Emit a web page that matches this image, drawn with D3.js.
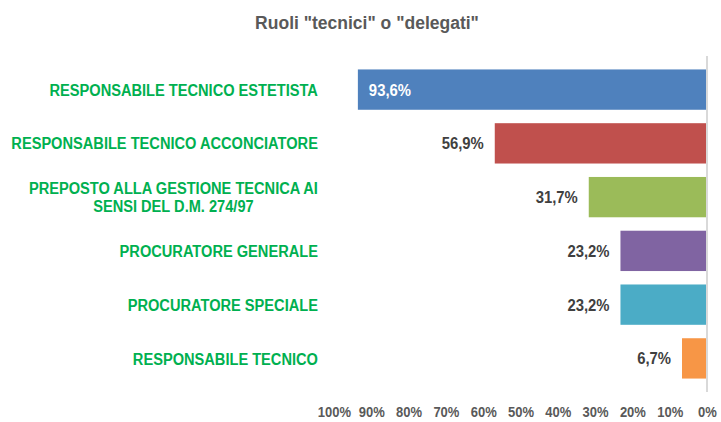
<!DOCTYPE html>
<html>
<head>
<meta charset="utf-8">
<script src="https://cdn.jsdelivr.net/npm/d3@7"></script>
<style>
  body { margin: 0; background: #fff; }
  text { font-family: "Liberation Sans", Arial, sans-serif; font-weight: bold; }
</style>
</head>
<body>
<div id="chart"></div>
<script>
// data
var categories = [
    "RESPONSABILE TECNICO ESTETISTA",
    "RESPONSABILE TECNICO ACCONCIATORE",
    "PREPOSTO ALLA GESTIONE TECNICA AI|SENSI DEL D.M. 274/97",
    "PROCURATORE GENERALE",
    "PROCURATORE SPECIALE",
    "RESPONSABILE TECNICO"
];
var values = [93.6, 56.9, 31.7, 23.2, 23.2, 6.7];
var barColors = ["#4F81BD", "#C0504D", "#9BBB59", "#8064A2", "#4BACC6", "#F79646"];
var tickValues = [100, 90, 80, 70, 60, 50, 40, 30, 20, 10, 0];

var width = 721,
    height = 422,
    margin = { top: 56, right: 14, bottom: 30, left: 334 };

// the original uses a narrow font, so squeeze text horizontally
var narrow = 0.86;

var svg = d3.select("#chart").append("svg")
    .attr("width", width)
    .attr("height", height);

// title
svg.append("text")
    .attr("x", 367)
    .attr("y", 28.5)
    .attr("text-anchor", "middle")
    .attr("fill", "#595959")
    .style("font-size", "17.5px")
    .text('Ruoli "tecnici" o "delegati"');

// reversed scale: 0% on the right
var x = d3.scaleLinear()
    .domain([100, 0])
    .range([margin.left, 707]);

var y = d3.scaleBand()
    .domain(categories)
    .range([margin.top, 392])
    .padding(0.25);

// bars
svg.selectAll(".bar")
    .data(values)
    .enter().append("rect")
    .attr("class", "bar")
    .attr("x", function (d) { return x(d); })
    .attr("y", function (d, i) { return y(categories[i]); })
    .attr("width", function (d) { return x(0) - x(d); })
    .attr("height", y.bandwidth())
    .attr("fill", function (d, i) { return barColors[i]; });

// zero line
svg.append("line")
    .attr("x1", x(0)).attr("x2", x(0))
    .attr("y1", margin.top).attr("y2", 392)
    .attr("stroke", "#D9D9D9")
    .attr("stroke-width", 2);

// value labels
svg.selectAll(".val")
    .data(values)
    .enter().append("g")
    .attr("class", "val")
    .attr("transform", function (d, i) {
        var px = i === 0 ? x(d) + 11 : x(d) - 11;
        var py = y(categories[i]) + y.bandwidth() / 2;
        return "translate(" + px + "," + py + ") scale(0.9,1)";
    })
    .append("text")
    .attr("dy", "0.36em")
    .attr("text-anchor", function (d, i) { return i === 0 ? "start" : "end"; })
    .attr("fill", function (d, i) { return i === 0 ? "#fff" : "#404040"; })
    .style("font-size", "16.5px")
    .text(function (d) { return d.toFixed(1).replace(".", ",") + "%"; });

// category labels (multi-line ones are centred on each other, right edge aligned)
var labelRight = 318;
categories.forEach(function (c) {
    var lines = c.split("|");
    var cy = y(c) + y.bandwidth() / 2;
    var lineH = 18.5;
    var g = svg.append("g");
    var t = g.selectAll("text")
        .data(lines)
        .enter().append("text")
        .attr("y", function (d, i) { return (i - (lines.length - 1) / 2) * lineH; })
        .attr("dy", "0.36em")
        .attr("text-anchor", "middle")
        .attr("fill", "#00B050")
        .style("font-size", "17px")
        .text(function (d) { return d; });
    var w = d3.max(t.nodes(), function (n) { return n.getComputedTextLength(); }) * narrow;
    g.attr("transform", "translate(" + (labelRight - w / 2) + "," + cy + ") scale(" + narrow + ",1)");
});

// x axis
var xAxis = svg.append("g")
    .attr("transform", "translate(0,392)")
    .call(d3.axisBottom(x)
        .tickValues(tickValues)
        .tickSize(0)
        .tickPadding(14)
        .tickFormat(function (d) { return d + "%"; }));

xAxis.select(".domain").remove();
xAxis.selectAll("text")
    .attr("fill", "#595959")
    .attr("transform", "scale(0.84,1)")
    .style("font-size", "15.5px")
    .style("font-family", null);
</script>
</body>
</html>
